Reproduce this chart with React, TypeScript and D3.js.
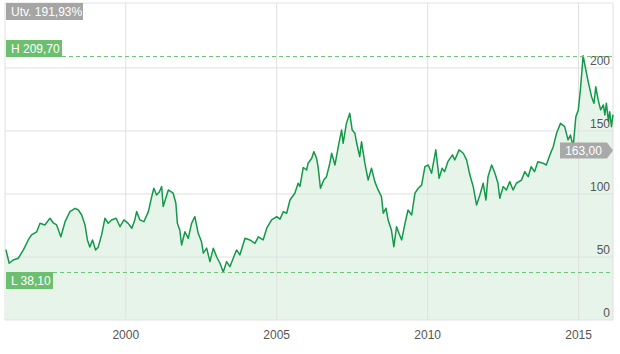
import { useMemo } from 'react'
import * as d3 from 'd3'

// decimal year of each traced point
const YEARS = [
  1996.03, 1996.14, 1996.27, 1996.44, 1996.61, 1996.77, 1996.88, 1997.05, 1997.16, 1997.32,
  1997.49, 1997.6, 1997.71, 1997.85, 1997.99, 1998.15, 1998.32, 1998.43, 1998.54, 1998.65,
  1998.73, 1998.81, 1998.9, 1999.0, 1999.09, 1999.2, 1999.31, 1999.42, 1999.53, 1999.68,
  1999.81, 1999.94, 2000.08, 2000.2, 2000.3, 2000.36, 2000.47, 2000.6, 2000.75, 2000.86,
  2000.93, 2001.02, 2001.11, 2001.19, 2001.24, 2001.41, 2001.57, 2001.66, 2001.71, 2001.79,
  2001.85, 2001.96, 2002.07, 2002.18, 2002.29, 2002.4, 2002.51, 2002.57, 2002.68, 2002.79,
  2002.9, 2003.01, 2003.12, 2003.23, 2003.34, 2003.45, 2003.56, 2003.67, 2003.78, 2003.95,
  2004.11, 2004.28, 2004.39, 2004.55, 2004.67, 2004.83, 2005.0, 2005.11, 2005.22, 2005.33,
  2005.44, 2005.6, 2005.71, 2005.77, 2005.88, 2005.99, 2006.04, 2006.16, 2006.23, 2006.32,
  2006.37, 2006.45, 2006.56, 2006.65, 2006.76, 2006.82, 2006.93, 2007.04, 2007.15, 2007.2,
  2007.31, 2007.42, 2007.5, 2007.59, 2007.65, 2007.75, 2007.81, 2007.92, 2008.03, 2008.14,
  2008.25, 2008.36, 2008.47, 2008.53, 2008.62, 2008.69, 2008.8, 2008.88, 2008.97, 2009.05,
  2009.14, 2009.25, 2009.35, 2009.47, 2009.58, 2009.69, 2009.8, 2009.91, 2010.02, 2010.13,
  2010.27, 2010.38, 2010.48, 2010.56, 2010.67, 2010.82, 2010.9, 2011.04, 2011.18, 2011.29,
  2011.4, 2011.51, 2011.62, 2011.73, 2011.84, 2011.93, 2012.0, 2012.12, 2012.23, 2012.33,
  2012.39, 2012.5, 2012.61, 2012.72, 2012.83, 2012.94, 2013.11, 2013.22, 2013.33, 2013.43,
  2013.54, 2013.65, 2013.82, 2013.93, 2014.05, 2014.16, 2014.27, 2014.4, 2014.54, 2014.65,
  2014.73, 2014.82, 2014.91, 2014.99, 2015.06, 2015.15, 2015.24, 2015.32, 2015.43, 2015.51,
  2015.57, 2015.65, 2015.73, 2015.82, 2015.87, 2015.92, 2015.99, 2016.03, 2016.09, 2016.14,
]

const PRICES = [
  55.8, 45, 47.6, 49, 55.6, 63.5, 67.5, 70, 76.7, 75.4,
  80.7, 77, 75.4, 66, 78, 86, 88.6, 87.3, 83.3, 75.4,
  63.5, 58, 63.5, 55.6, 58, 67.5, 80.7, 76.7, 79.4, 80.7,
  74, 79.4, 76.7, 72.8, 79.4, 86, 79.4, 78, 86, 97.9,
  104.5, 99.2, 101.6, 105.8, 90, 103.2, 100.6, 92.6, 76.7, 71.4,
  59.5, 70, 64.8, 76.7, 82, 68.8, 62, 53, 57, 46.3,
  57, 50.2, 45, 38.1, 46.3, 42.3, 49, 55.6, 51.6, 64.8,
  63.5, 60.8, 66, 63.5, 72.8, 79.4, 82, 80, 86, 84.7,
  95.2, 100.6, 108.5, 106, 121, 119, 124.4, 128.3, 133.6, 128.3,
  121.7, 104.5, 111, 113.7, 124.4, 132.3, 123, 137.5, 150.8, 140.2,
  156, 164, 150.8, 148.2, 140.2, 129.6, 141.5, 124.4, 111, 120.4,
  109.8, 103.2, 97.9, 84.7, 88.7, 79.4, 71.4, 58.2, 74, 68.8,
  63.5, 76.7, 87.3, 83.3, 100.6, 104.5, 107, 121.7, 123, 116.4,
  135, 112.4, 120.4, 117.7, 125.6, 131, 127, 135, 132.3, 127,
  115, 105.8, 91.3, 99.2, 108.5, 95.2, 113.7, 123, 116.4, 108.5,
  96.6, 105.8, 103.2, 109.8, 103.2, 108.5, 111, 117.7, 113.7, 121.7,
  117.7, 125.6, 124.4, 123, 131, 137.5, 148.2, 156, 153.4, 142.9,
  146.8, 137.5, 161.3, 166.7, 182.5, 209.7, 198.4, 189, 177.2, 172,
  185, 174.6, 166.7, 170.6, 162.7, 172, 157.4, 165.3, 153.4, 163,
]

const Y_TICKS = [0, 50, 100, 150, 200]
const X_TICKS = [2000, 2005, 2010, 2015]
const HIGH = 209.7
const LOW = 38.1
const LAST = 163.0
const CHANGE_LABEL = 'Utv. 191,93%'
const fmt = (v: number) => v.toFixed(2).replace('.', ',')

const W = 620
const H = 354
const PLOT = { left: 5, right: 613, top: 3, bottom: 320 }
const FONT = '"Liberation Sans", Arial, Helvetica, sans-serif'

export default function App() {
  const points = useMemo(() => YEARS.map((y, i) => ({ t: y, v: PRICES[i] })), [])

  const x = d3.scaleLinear().domain([1996, 2016.14]).range([PLOT.left, PLOT.right])
  const y = d3.scaleLinear().domain([0, 251.5]).range([PLOT.bottom, PLOT.top])

  const line = d3.line<{ t: number; v: number }>().x(d => x(d.t)).y(d => y(d.v))
  const area = d3.area<{ t: number; v: number }>().x(d => x(d.t)).y0(PLOT.bottom).y1(d => y(d.v))

  const hy = Math.round(y(HIGH)) + 0.5
  const ly = Math.round(y(LOW)) + 0.5
  const lastY = 150.5

  return (
    <svg width={W} height={H} style={{ position: 'absolute', left: 0, top: 0, fontFamily: FONT }}>
      <rect x={0} y={0} width={W} height={H} fill="#fff" />
      <path d={area(points) || ''} fill="#e7f4e9" />

      {/* grid */}
      {Y_TICKS.map(t => (
        <line key={t} x1={PLOT.left} x2={PLOT.right} y1={y(t)} y2={y(t)} stroke="#e0e0e0" />
      ))}
      <line x1={PLOT.left} x2={PLOT.right} y1={PLOT.top} y2={PLOT.top} stroke="#e2e2e2" />
      {X_TICKS.map(t => (
        <line key={t} x1={x(t)} x2={x(t)} y1={PLOT.top} y2={PLOT.bottom} stroke="#e0e0e0" />
      ))}
      <line x1={PLOT.left} x2={PLOT.left} y1={PLOT.top} y2={PLOT.bottom} stroke="#e0e0e0" />
      <line x1={PLOT.right} x2={PLOT.right} y1={PLOT.top} y2={PLOT.bottom} stroke="#e0e0e0" />

      <path d={line(points) || ''} fill="none" stroke="#14994a" strokeWidth={1.5} strokeLinejoin="round" />

      {/* high / low markers */}
      <line x1={62} x2={PLOT.right} y1={hy} y2={hy} stroke="#6fc67a" strokeDasharray="4,3" />
      <line x1={53} x2={PLOT.right} y1={ly} y2={ly} stroke="#6fc67a" strokeDasharray="4,3" />
      <rect x={6} y={hy - 16.5} width={56} height={17} fill="#6bbf6e" />
      <text x={11} y={hy - 4} fill="#fff" fontSize={12}>{`H ${fmt(HIGH)}`}</text>
      <rect x={6} y={ly - 0.5} width={47} height={17} fill="#6bbf6e" />
      <text x={11} y={ly + 12} fill="#fff" fontSize={12}>{`L ${fmt(LOW)}`}</text>

      <rect x={6} y={3} width={77} height={17} fill="#a5a5a5" />
      <text x={11} y={15.5} fill="#fff" fontSize={12}>{CHANGE_LABEL}</text>

      {/* y tick labels */}
      {Y_TICKS.map(t => (
        <text key={t} x={610} y={y(t) - 3} textAnchor="end" fill="#555" fontSize={12}>{t}</text>
      ))}

      {/* last value tag */}
      <path
        d={`M560,${lastY - 8}H607L613,${lastY}L607,${lastY + 8}H560Z`}
        fill="#a9a9a9"
      />
      <text x={583.5} y={lastY + 4.5} textAnchor="middle" fill="#fff" fontSize={12}>{fmt(LAST)}</text>

      {/* x tick labels */}
      {X_TICKS.map(t => (
        <text key={t} x={x(t)} y={339} textAnchor="middle" fill="#555" fontSize={12}>{t}</text>
      ))}
    </svg>
  )
}
